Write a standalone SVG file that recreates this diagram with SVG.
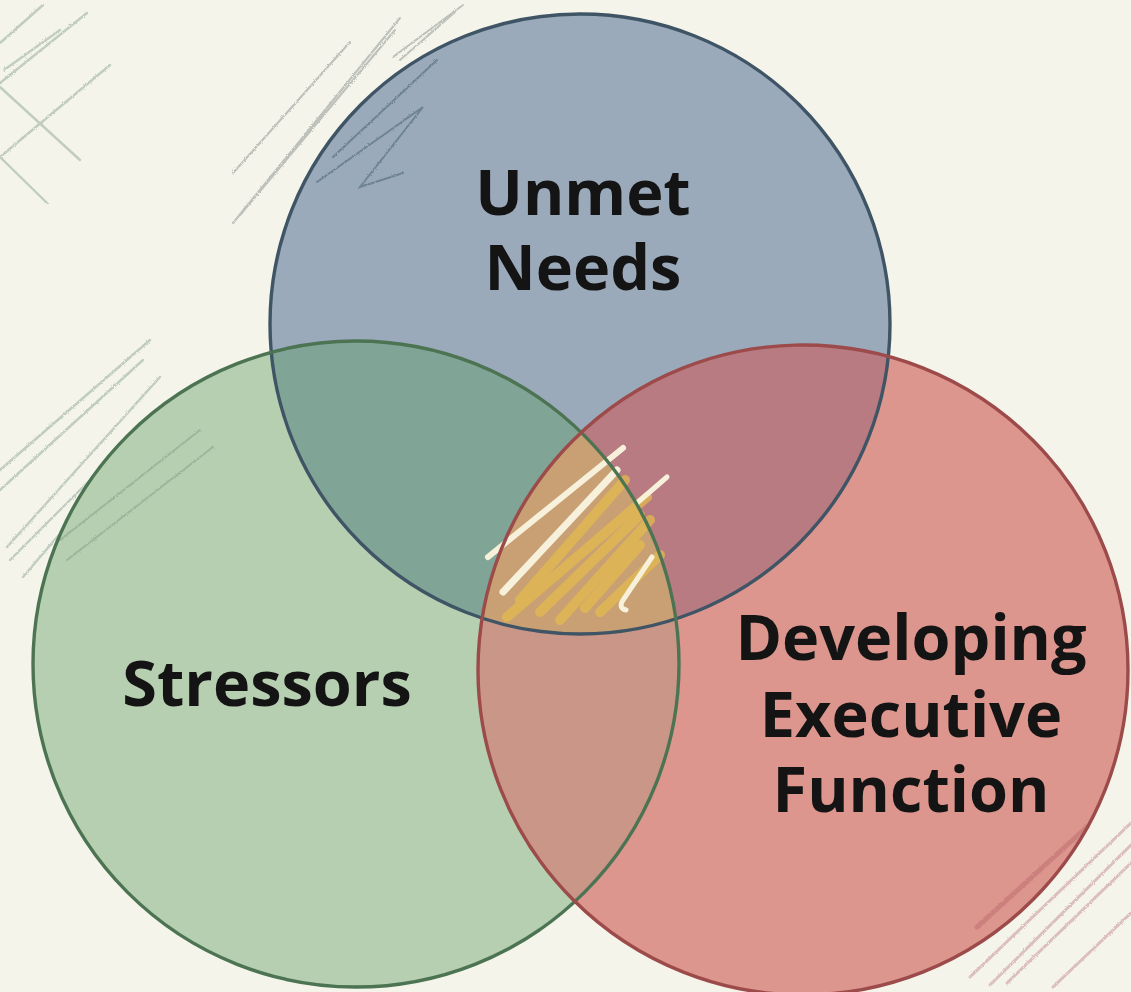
<svg xmlns="http://www.w3.org/2000/svg" width="1131" height="992" viewBox="0 0 1131 992">
  <style>
    .label { font-family: "Open Sans", Lato, "Liberation Sans", sans-serif; font-weight: 700; font-size: 63px; fill: #141414; text-anchor: middle; font-variant-ligatures: none; }
    .rim { fill: none; stroke-width: 3.4; }
    .hatch { fill: none; stroke-linecap: round; }
    .pencil-grey { stroke: #8f9892; stroke-width: 2; opacity: 0.55; }
    .pencil-green { stroke: #9fb3a0; stroke-width: 2.4; opacity: 0.6; }
    .pencil-red { stroke: #c48a8e; stroke-width: 3; opacity: 0.5; }
  </style>
  <defs>
    <clipPath id="clip-blue"><circle cx="580" cy="324" r="310"/></clipPath>
    <clipPath id="clip-green"><circle cx="356" cy="664" r="323"/></clipPath>
    <clipPath id="clip-red"><circle cx="803" cy="670" r="325"/></clipPath>
    <filter id="grain" x="-5%" y="-5%" width="110%" height="110%">
      <feTurbulence type="fractalNoise" baseFrequency="0.9" numOctaves="2" seed="3" result="n"/>
      <feDisplacementMap in="SourceGraphic" in2="n" scale="2.5"/>
    </filter>
  </defs>

  <!-- paper -->
  <rect width="1131" height="992" fill="#f4f4eb"/>

  <!-- loose pencil hatching around the edges -->
  <g id="margin-hatching" class="hatch" filter="url(#grain)">
    <path class="pencil-green" d="M0 43 L43 5 M0 83 L87 13 M0 157 L110 65 M0 87 L80 160 M0 157 L47 203 M4 70 L60 30"/>
    <path class="pencil-grey" d="M233 173 L350 42 M233 223 L400 18 M240 215 L395 30 M393 57 L463 5 M400 60 L455 12"/>
    <path class="pencil-green" d="M0 470 L150 340 M0 490 L143 360 M7 547 L160 377 M23 577 L163 413 M10 560 L150 420"/>
    <path class="pencil-red" d="M970 977 L1131 823 M1007 983 L1131 863 M1053 987 L1131 913 M990 985 L1131 845"/>
  </g>

  <!-- circle fills -->
  <g id="fills">
    <circle cx="580" cy="324" r="310" fill="#9aaabb"/>
    <circle cx="356" cy="664" r="323" fill="#b6cfb1"/>
    <circle cx="803" cy="670" r="325" fill="#dd968d"/>
    <!-- pairwise overlaps -->
    <g clip-path="url(#clip-blue)"><circle cx="356" cy="664" r="323" fill="#80a597"/></g>
    <g clip-path="url(#clip-blue)"><circle cx="803" cy="670" r="325" fill="#b97b82"/></g>
    <g clip-path="url(#clip-green)"><circle cx="803" cy="670" r="325" fill="#c99687"/></g>
    <!-- shared centre -->
    <g clip-path="url(#clip-blue)"><g clip-path="url(#clip-green)"><circle cx="803" cy="670" r="325" fill="#c9a074"/></g></g>
  </g>

  <!-- inner shading strokes -->
  <g id="inner-hatching" class="hatch" filter="url(#grain)">
    <path stroke="#52697c" stroke-width="2" opacity="0.6" d="M317 182 L423 107 L360 187 L403 173 M333 157 L437 60"/>
    <path stroke="#7f9e83" stroke-width="2" opacity="0.5" d="M67 560 L213 447 M60 540 L200 430"/>
    <path stroke="#b9676a" stroke-width="5" opacity="0.45" d="M977 927 L1087 827"/>
  </g>

  <!-- scribble in the shared centre -->
  <g id="centre-scribble" class="hatch">
    <g clip-path="url(#clip-blue)">
      <path stroke="#e2b94d" stroke-width="10" opacity="0.75" d="M507 617 L647 497 M560 620 L650 520 M585 608 L640 545 M520 600 L625 480 M600 612 L660 555 M540 612 L640 515"/>
    </g>
    <path stroke="#f7f1dc" stroke-width="6" d="M488 557 L623 448"/>
    <path stroke="#f7f1dc" stroke-width="7" d="M503 592 L617 470"/>
    <path stroke="#f7f1dc" stroke-width="5" d="M637 503 L667 477"/>
    <path stroke="#f7f1dc" stroke-width="5" d="M652 557 L623 600 Q618 608 626 610"/>
  </g>

  <!-- circle outlines and labels -->
  <g id="node-unmet-needs">
    <circle class="rim" cx="580" cy="324" r="310" stroke="#3f5566"/>
    <text class="label" x="583" y="215">Unmet<tspan x="583" dy="75">Needs</tspan></text>
  </g>
  <g id="node-stressors">
    <circle class="rim" cx="356" cy="664" r="323" stroke="#4c7452"/>
    <text class="label" x="267" y="706">Stressors</text>
  </g>
  <g id="node-executive-function">
    <circle class="rim" cx="803" cy="670" r="325" stroke="#9c4b4a"/>
    <text class="label" x="911" y="660">Developing<tspan x="911" dy="77">Executive</tspan><tspan x="911" dy="75">Function</tspan></text>
  </g>
</svg>
